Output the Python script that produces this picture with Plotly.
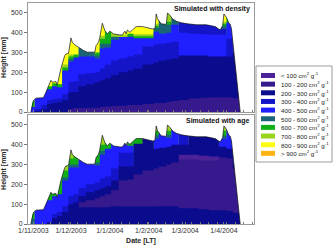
import plotly.graph_objects as go

# ---------------- data ----------------
CLASS_LABELS = ['< 100', '100 - 200', '200 - 300', '300 - 400', '400 - 500',
                '500 - 600', '600 - 700', '700 - 800', '800 - 900', '> 900']
CLASS_COLORS = ['#4c2299', '#36198c', '#0b0b8e', '#1414c8', '#1f1fff',
                '#1a6478', '#12ae18', '#98d41c', '#ffff14', '#ffb414']

MONTH_TICKS = ['2003-11-01', '2003-12-01', '2004-01-01', '2004-02-01', '2004-03-01', '2004-04-01']
MONTH_LABELS = ['1/11/2003', '1/12/2003', '1/1/2004', '1/2/2004', '1/3/2004', '1/4/2004']
Y_TICKS = [0, 100, 200, 300, 400, 500]

# snow surface (height in mm)
SURF_DATES = ['2003-10-30', '2003-10-31', '2003-11-01', '2003-11-03', '2003-11-06', '2003-11-09',
              '2003-11-11', '2003-11-14', '2003-11-15', '2003-11-16', '2003-11-19', '2003-11-20',
              '2003-11-21', '2003-11-23', '2003-11-26', '2003-11-27', '2003-11-29', '2003-12-01',
              '2003-12-02', '2003-12-04', '2003-12-07', '2003-12-11', '2003-12-14', '2003-12-20',
              '2003-12-21', '2003-12-23', '2003-12-24', '2003-12-26', '2003-12-28', '2003-12-30',
              '2004-01-01', '2004-01-04', '2004-01-09', '2004-01-11', '2004-01-13', '2004-01-14',
              '2004-01-15', '2004-01-17', '2004-01-19', '2004-01-22', '2004-01-27', '2004-02-04',
              '2004-02-06', '2004-02-07', '2004-02-08', '2004-02-11', '2004-02-15', '2004-02-16',
              '2004-02-18', '2004-02-20', '2004-02-23', '2004-02-27', '2004-03-03', '2004-03-10',
              '2004-03-18', '2004-03-25', '2004-03-29', '2004-03-31', '2004-04-01', '2004-04-03',
              '2004-04-05', '2004-04-06', '2004-04-07', '2004-04-08', '2004-04-12', '2004-04-14']
SURF_H = [0, 40, 58, 70, 72, 72,
          100, 142, 160, 150, 154, 135,
          168, 220, 285, 293, 295, 374,
          352, 339, 327, 310, 302, 302,
          335, 352, 377, 448, 411, 394,
          408, 394, 389, 389, 408, 394,
          414, 402, 414, 431, 431, 419,
          421, 495, 470, 445, 442, 500,
          487, 470, 458, 450, 445, 440,
          440, 431, 414, 436, 495, 478,
          448, 443, 420, 360, 143, 0]

# layer grid (start dates of periods)
GRID_DATES = ['2003-10-30', '2003-11-02', '2003-11-07', '2003-11-12', '2003-11-16', '2003-11-20',
              '2003-11-24', '2003-11-29', '2003-12-03', '2003-12-07', '2003-12-13', '2003-12-20',
              '2003-12-24', '2003-12-28', '2004-01-02', '2004-01-08', '2004-01-15', '2004-01-20',
              '2004-01-27', '2004-02-05', '2004-02-09', '2004-02-15', '2004-02-19', '2004-02-25',
              '2004-03-04', '2004-03-12', '2004-03-20', '2004-03-28', '2004-04-03', '2004-04-08',
              '2004-04-16']

# simulated with density: top of each colour band per period (550 = up to the surface)
DEN_YG = [0, 0, 0, 0, 0, 0, 240, 290, 0, 0, 0, 0, 385, 0, 550, 390, 0, 392, 392, 445,
          0, 550, 0, 0, 0, 0, 0, 455, 0, 0, 0]
DEN_GREEN = [550, 0, 0, 130, 145, 140, 225, 280, 290, 0, 0, 300, 370, 550, 0, 0, 395, 382, 382, 435,
             0, 455, 0, 0, 0, 0, 0, 445, 550, 0, 0]
DEN_TEAL = [0, 0, 0, 0, 0, 0, 0, 268, 0, 550, 550, 285, 345, 345, 380, 0, 0, 0, 0, 425,
            550, 440, 550, 0, 0, 0, 0, 435, 0, 0, 0]
DEN_MEDTOP = [0, 0, 0, 0, 0, 0, 0, 0, 0, 0, 0, 0, 0, 0, 0, 0, 0, 0, 0, 0,
              0, 0, 0, 550, 550, 550, 550, 420, 0, 550, 0]
DEN_BRIGHT = [25, 550, 550, 115, 130, 125, 210, 255, 275, 280, 280, 270, 320, 325, 365, 378, 380, 372, 372, 405,
              395, 400, 440, 400, 395, 392, 390, 390, 452, 0, 0]
DEN_MEDIUM = [0, 15, 35, 60, 65, 70, 90, 150, 155, 190, 195, 200, 220, 240, 260, 270, 280, 290, 330, 340,
              345, 350, 355, 0, 0, 0, 0, 0, 370, 0, 0]
DEN_NAVY = [0, 5, 15, 40, 45, 50, 60, 100, 100, 130, 140, 150, 160, 170, 185, 200, 210, 220, 240, 250,
            260, 265, 270, 285, 285, 285, 280, 280, 280, 300, 0]
DEN_PURPLE = [0, 0, 0, 0, 0, 0, 0, 15, 20, 20, 22, 22, 25, 28, 30, 32, 35, 35, 40, 45,
              45, 50, 55, 60, 68, 72, 75, 75, 75, 70, 0]

# simulated with age
AGE_GREEN = [550, 0, 0, 550, 550, 550, 270, 330, 550, 0, 0, 550, 400, 550, 0, 0, 550, 550, 0, 470,
             0, 470, 0, 0, 0, 0, 0, 470, 0, 0, 0]
AGE_TEAL = [25, 0, 0, 0, 0, 0, 235, 300, 300, 0, 0, 310, 370, 0, 0, 0, 0, 0, 0, 448,
            0, 450, 0, 0, 0, 0, 0, 445, 0, 0, 0]
AGE_BRIGHT = [0, 550, 550, 120, 140, 150, 220, 285, 285, 550, 550, 295, 350, 380, 550, 550, 395, 0, 0, 432,
              550, 435, 550, 0, 0, 0, 0, 430, 550, 0, 0]
AGE_MEDIUM = [0, 0, 0, 0, 50, 60, 90, 140, 150, 180, 200, 210, 230, 240, 280, 360, 360, 0, 0, 0,
              0, 0, 0, 550, 0, 0, 0, 0, 0, 0, 0]
AGE_NAVY_UP = [0, 0, 0, 0, 0, 0, 0, 0, 0, 140, 160, 170, 180, 190, 220, 290, 290, 405, 550, 380,
               385, 390, 400, 400, 550, 550, 550, 390, 380, 550, 0]
AGE_LT100 = [0, 0, 0, 0, 0, 0, 0, 0, 0, 0, 0, 0, 0, 0, 0, 0, 0, 0, 0, 0,
             0, 0, 0, 350, 350, 345, 340, 0, 0, 0, 0]
AGE_PURPLE = [0, 0, 0, 0, 0, 0, 0, 0, 0, 110, 120, 130, 140, 150, 170, 220, 225, 250, 270, 280,
              290, 300, 310, 325, 325, 320, 320, 335, 330, 280, 0]
AGE_NAVY_LO = [0, 0, 0, 10, 30, 40, 60, 100, 110, 85, 85, 85, 85, 85, 90, 88, 88, 88, 88, 90,
               90, 90, 90, 80, 80, 75, 70, 70, 65, 55, 0]

X_RANGE = ['2003-10-27 17:00', '2004-04-25']
Y_RANGE = [0, 550]

# ---------------- figure ----------------
COL = dict(zip(CLASS_LABELS, CLASS_COLORS))
fig = go.Figure()


def band(dates, tops, color, ax, shape='hv'):
    fig.add_trace(go.Scatter(x=dates, y=tops, mode='lines', line=dict(width=0, shape=shape),
                             fill='tozeroy', fillcolor=color, hoverinfo='skip', showlegend=False,
                             xaxis=ax[0], yaxis=ax[1]))


def finish(ax):
    # white above the snow surface, then the surface line
    mx = [X_RANGE[0]] + SURF_DATES + [X_RANGE[1], X_RANGE[1], X_RANGE[0]]
    my = [0] + SURF_H + [0, 600, 600]
    fig.add_trace(go.Scatter(x=mx, y=my, mode='lines', line=dict(width=0), fill='toself',
                             fillcolor='white', hoverinfo='skip', showlegend=False,
                             xaxis=ax[0], yaxis=ax[1]))
    fig.add_trace(go.Scatter(x=SURF_DATES, y=SURF_H, mode='lines', line=dict(width=0.7, color='#111'),
                             hoverinfo='skip', showlegend=False, xaxis=ax[0], yaxis=ax[1]))


top = ('x', 'y')
bot = ('x2', 'y2')

band(SURF_DATES, SURF_H, COL['800 - 900'], top, shape='linear')
band(GRID_DATES, DEN_YG, COL['700 - 800'], top)
band(GRID_DATES, DEN_GREEN, COL['600 - 700'], top)
band(GRID_DATES, DEN_TEAL, COL['500 - 600'], top)
band(GRID_DATES, DEN_MEDTOP, COL['300 - 400'], top)
band(GRID_DATES, DEN_BRIGHT, COL['400 - 500'], top)
band(GRID_DATES, DEN_MEDIUM, COL['300 - 400'], top)
band(GRID_DATES, DEN_NAVY, COL['200 - 300'], top)
band(GRID_DATES, DEN_PURPLE, COL['100 - 200'], top)
finish(top)

band(SURF_DATES, SURF_H, COL['700 - 800'], bot, shape='linear')
band(GRID_DATES, AGE_GREEN, COL['600 - 700'], bot)
band(GRID_DATES, AGE_TEAL, COL['500 - 600'], bot)
band(GRID_DATES, AGE_BRIGHT, COL['400 - 500'], bot)
band(GRID_DATES, AGE_MEDIUM, COL['300 - 400'], bot)
band(GRID_DATES, AGE_NAVY_UP, COL['200 - 300'], bot)
band(GRID_DATES, AGE_LT100, COL['< 100'], bot)
band(GRID_DATES, AGE_PURPLE, COL['100 - 200'], bot)
band(GRID_DATES, AGE_NAVY_LO, COL['200 - 300'], bot)
finish(bot)

FONT = 'Arial, Liberation Sans, sans-serif'
W, H = 335, 250
ML, MR, MT, MB = 28, 81, 3, 26
PW, PH = W - ML - MR, H - MT - MB


def px(x):
    return (x - ML) / PW


def py(y):
    return (H - MB - y) / PH


xcommon = dict(type='date', range=X_RANGE, showgrid=False, zeroline=False, showline=True,
               mirror=True, linecolor='#9a9a9a', linewidth=1, tickmode='array',
               tickvals=MONTH_TICKS, ticktext=MONTH_LABELS, ticks='inside', ticklen=2,
               tickcolor='#777', tickfont=dict(family=FONT, size=7, color='#333'),
               minor=dict(ticks='inside', ticklen=2, dtick=7 * 86400000, tick0='2003-11-01',
                          tickcolor='#777'))
ycommon = dict(range=Y_RANGE, showgrid=False, zeroline=False, showline=True, mirror=True,
               linecolor='#9a9a9a', linewidth=1, tickmode='array', tickvals=Y_TICKS,
               ticks='outside', ticklen=3, tickcolor='#777',
               tickfont=dict(family=FONT, size=7, color='#333'),
               title=dict(text='<b>Height [mm]</b>', font=dict(family=FONT, size=7, color='#222'),
                          standoff=3))

fig.update_layout(
    width=W, height=H, margin=dict(l=ML, r=MR, t=MT, b=MB),
    paper_bgcolor='white', plot_bgcolor='white', showlegend=False,
    xaxis=dict(xcommon, anchor='y', showticklabels=False),
    xaxis2=dict(xcommon, anchor='y2', matches='x',
                title=dict(text='<b>Date [LT]</b>', font=dict(family=FONT, size=7, color='#222'),
                           standoff=4)),
    yaxis=dict(ycommon, domain=[py(112), 1], anchor='x'),
    yaxis2=dict(ycommon, domain=[0, py(115)], anchor='x2'),
)

ann = [
    dict(text='<b>Simulated with density</b>', x=px(252), y=py(8.5), xref='paper', yref='paper',
         xanchor='right', yanchor='middle', showarrow=False,
         font=dict(family=FONT, size=7, color='#111')),
    dict(text='<b>Simulated with age</b>', x=px(252), y=py(120.5), xref='paper', yref='paper',
         xanchor='right', yanchor='middle', showarrow=False,
         font=dict(family=FONT, size=7, color='#111')),
]
shapes = [dict(type='rect', xref='paper', yref='paper', x0=px(256), x1=px(332), y0=py(162), y1=py(66),
               line=dict(color='#9a9a9a', width=1), fillcolor='white', layer='above')]
for i, (lab, colr) in enumerate(zip(CLASS_LABELS, CLASS_COLORS)):
    yc = 75.5 + 8.65 * i
    shapes.append(dict(type='rect', xref='paper', yref='paper', x0=px(261), x1=px(275),
                       y0=py(yc + 2.5), y1=py(yc - 2.5), line=dict(width=0), fillcolor=colr,
                       layer='above'))
    ann.append(dict(text=lab + ' cm<sup>2</sup> g<sup>-1</sup>', x=px(279), y=py(yc), xref='paper',
                    yref='paper', xanchor='left', yanchor='middle', showarrow=False,
                    font=dict(family=FONT, size=6.2, color='#222')))

fig.update_layout(annotations=ann, shapes=shapes)
fig.write_html('out.html')
